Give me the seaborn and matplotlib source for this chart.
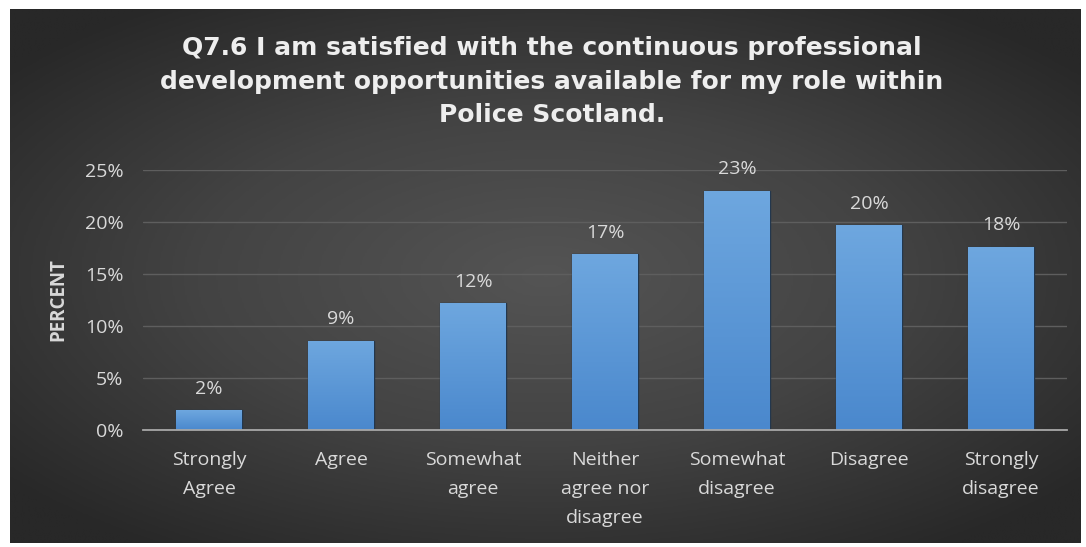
import numpy as np
import pandas as pd
import matplotlib
matplotlib.use("Agg")
import matplotlib.pyplot as plt
import seaborn as sns
from matplotlib.colors import LinearSegmentedColormap

# Survey responses (percent of respondents)
categories = ["Strongly\nAgree", "Agree", "Somewhat\nagree", "Neither\nagree nor\ndisagree",
              "Somewhat\ndisagree", "Disagree", "Strongly\ndisagree"]
percent = [1.9, 8.6, 12.2, 16.9, 23.0, 19.7, 17.6]
y_ticks = [0, 5, 10, 15, 20, 25]
y_tick_labels = ["0%", "5%", "10%", "15%", "20%", "25%"]
title_text = ("Q7.6 I am satisfied with the continuous professional\n"
              "development opportunities available for my role within\n"
              "Police Scotland.")

sns.set_theme(style="dark")
plt.rcParams["font.family"] = ["Open Sans", "DejaVu Sans"]

W, H = 1086, 547
fig = plt.figure(figsize=(W / 100, H / 100), dpi=100, facecolor="white")

# Dark radial-gradient chart background inside a thin white margin
bg = fig.add_axes([10 / W, 4 / H, 1071 / W, 534 / H])
yy, xx = np.mgrid[-1:1:300j, -1:1:600j]
r = np.clip(np.sqrt((xx * 1.0) ** 2 + (yy * 1.05) ** 2) / 1.3, 0, 1)
bg_cmap = LinearSegmentedColormap.from_list("bg", ["#545454", "#434343", "#282828"])
bg.imshow(r, cmap=bg_cmap, aspect="auto", extent=[0, 1, 0, 1], interpolation="bilinear")
bg.set_axis_off()

# Plot area
ax = fig.add_axes([143 / W, 117 / H, 924 / W, 260 / H])
ax.patch.set_alpha(0)

df = pd.DataFrame({"response": categories, "percent": percent})
sns.barplot(data=df, x="response", y="percent", ax=ax, width=0.5,
            color="#5b9bd5", edgecolor="#23374d", linewidth=1.0, zorder=3)

# Vertical gradient fill on each bar
bar_cmap = LinearSegmentedColormap.from_list("bar", ["#4a88cd", "#6ea7df"])
grad = np.linspace(0, 1, 256).reshape(-1, 1)
for p in ax.patches:
    x0, y0 = p.get_x(), p.get_y()
    w, h = p.get_width(), p.get_height()
    im = ax.imshow(grad, cmap=bar_cmap, aspect="auto", origin="lower",
                   extent=[x0, x0 + w, y0, y0 + h], zorder=3.5)
    im.set_clip_path(p)

# Value labels
for i, v in enumerate(percent):
    ax.annotate(f"{v:.0f}%", (i, v), xytext=(0, 9), textcoords="offset points",
                ha="center", va="bottom", color="#d9d9d9", fontsize=14)

ax.set_xlim(-0.5, 6.5)
ax.set_ylim(0, 25)
ax.set_yticks(y_ticks)
ax.set_yticklabels(y_tick_labels)
ax.yaxis.grid(True, color="#5e5e5e", linewidth=1.0, zorder=0)
ax.xaxis.grid(False)
for side in ["top", "right", "left"]:
    ax.spines[side].set_visible(False)
ax.spines["bottom"].set_color("#a8a8a8")
ax.spines["bottom"].set_linewidth(1.3)
ax.spines["bottom"].set_zorder(5)
ax.tick_params(axis="y", colors="#d9d9d9", labelsize=14, pad=14, length=0)
ax.tick_params(axis="x", colors="#d9d9d9", labelsize=14, pad=15, length=0)
for lbl in ax.get_xticklabels():
    lbl.set_linespacing(1.8)

ax.set_xlabel("")
ax.set_ylabel("PERCENT", color="#d9d9d9", fontsize=13.5, fontweight="bold", labelpad=12)

fig.text(552 / W, 1 - 82 / H, title_text, ha="center", va="center",
         color="#eeeeee", fontsize=18, fontweight="bold", linespacing=1.5,
         family=["DejaVu Sans"])

fig.savefig("out.png", dpi=100, facecolor="white")
